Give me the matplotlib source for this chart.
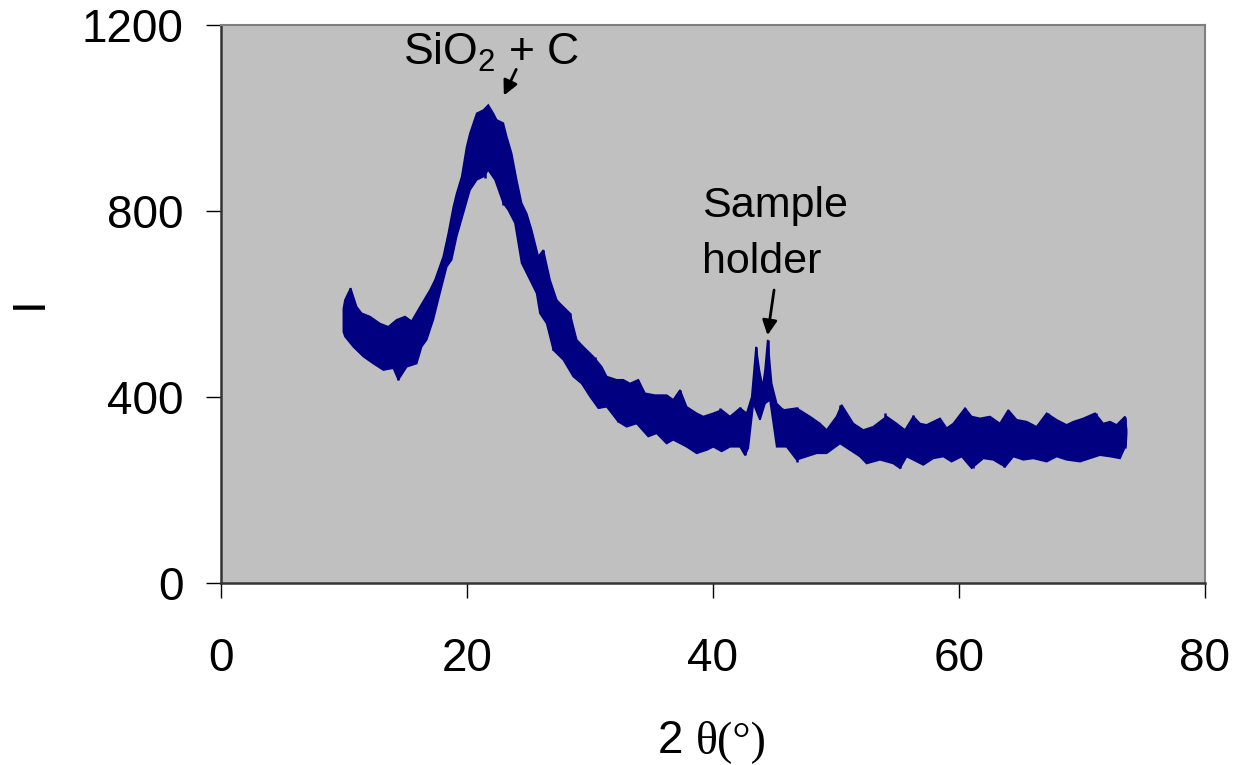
import matplotlib
matplotlib.use('Agg')
import matplotlib.pyplot as plt

# upper edge of the noisy trace (2theta, I)
upper_theta = [9.95, 10.08, 10.54, 11.03, 11.44, 12.11, 12.93, 13.60, 14.28, 14.96, 15.50, 16.18,
               16.99, 17.40, 18.07, 18.48, 18.89, 19.16, 19.57, 19.97, 20.24, 20.79, 21.33, 21.73,
               22.14, 22.41, 22.95, 23.23, 23.63, 24.04, 24.44, 24.85, 25.26, 25.80, 26.21, 26.75,
               27.29, 27.56, 28.37, 28.92, 29.46, 30.27, 30.95, 31.36, 32.17, 32.71, 33.25, 33.93,
               34.47, 35.28, 36.23, 36.77, 37.32, 37.86, 38.67, 39.21, 40.03, 40.70, 41.38, 42.20,
               42.74, 43.15, 43.50, 43.77, 44.04, 44.23, 44.45, 44.77, 45.18, 45.72, 46.80, 47.89,
               48.70, 49.24, 50.05, 50.46, 51.41, 52.22, 53.03, 54.12, 54.93, 55.61, 56.29, 56.83,
               57.37, 57.91, 58.46, 59.00, 59.54, 60.49, 61.03, 61.71, 62.52, 63.33, 64.01, 64.69,
               65.50, 66.31, 67.13, 67.94, 68.75, 69.30, 70.11, 71.06, 71.73, 72.28, 72.82, 73.50,
               73.63]
upper_i = [590, 609, 634, 594, 580, 573, 558, 551, 566, 573, 563, 594,
           630, 652, 702, 752, 809, 838, 874, 938, 967, 1010, 1017, 1028,
           1010, 996, 989, 960, 924, 867, 817, 795, 759, 702, 716, 652,
           609, 601, 580, 523, 508, 487, 465, 444, 437, 437, 429, 437,
           408, 404, 404, 394, 415, 379, 365, 358, 365, 372, 358, 376,
           365, 400, 508, 458, 422, 458, 523, 429, 386, 372, 376, 358,
           343, 329, 358, 383, 343, 329, 336, 358, 343, 329, 358, 343,
           340, 347, 354, 333, 343, 376, 358, 354, 358, 343, 372, 351,
           347, 336, 365, 351, 340, 347, 354, 365, 343, 347, 340, 358,
           330]

# lower edge of the noisy trace
lower_theta = [9.95, 10.08, 10.76, 11.57, 12.38, 13.20, 14.01, 14.42, 15.10, 15.91, 16.31, 16.72,
               17.26, 17.80, 18.35, 18.75, 19.16, 19.70, 20.24, 20.79, 21.33, 21.73, 22.28, 22.95,
               23.36, 23.90, 24.44, 25.12, 25.66, 25.93, 26.48, 27.02, 27.83, 28.64, 29.32, 30.00,
               30.68, 31.36, 32.30, 32.98, 33.79, 34.74, 35.42, 36.23, 36.77, 37.86, 38.67, 39.49,
               40.03, 40.70, 41.38, 42.20, 42.60, 42.87, 43.28, 43.82, 44.23, 44.63, 45.18, 45.99,
               46.80, 47.62, 48.43, 49.24, 50.33, 51.14, 51.95, 52.49, 53.58, 54.66, 55.20, 55.75,
               57.10, 57.91, 58.73, 59.40, 60.22, 61.03, 61.98, 62.79, 63.74, 64.42, 65.23, 66.04,
               67.13, 67.94, 68.75, 69.84, 70.65, 71.46, 72.28, 73.09, 73.58, 73.63]
lower_i = [540, 530, 508, 487, 472, 458, 462, 437, 465, 472, 508, 523,
           566, 623, 680, 695, 745, 795, 845, 867, 874, 888, 867, 817,
           802, 774, 688, 652, 623, 580, 558, 501, 480, 444, 429, 401,
           376, 379, 347, 336, 343, 315, 322, 300, 308, 293, 279, 286,
           293, 283, 293, 293, 275, 290, 386, 351, 386, 394, 293, 293,
           265, 272, 279, 279, 300, 286, 272, 257, 265, 257, 247, 272,
           254, 268, 272, 261, 272, 247, 268, 265, 250, 272, 265, 268,
           261, 272, 265, 261, 268, 275, 272, 268, 297, 320]

# thin spikes standing out of the band
spike_theta = [10.5, 14.4, 15.0, 21.5, 22.9, 26.2, 27.0, 28.4, 30.4, 30.7, 32.3, 33.9,
               36.3, 37.3, 38.7, 40.6, 42.2, 42.6, 43.5, 44.5, 45.6, 46.8, 46.8, 50.3,
               54.0, 55.2, 56.3, 60.5, 61.1, 63.7, 64.0, 67.2, 71.1, 73.5]
spike_low = [560, 437, 520, 871, 813, 650, 501, 530, 430, 376, 346, 390,
             350, 350, 280, 330, 330, 275, 420, 440, 330, 330, 260, 330,
             310, 247, 310, 320, 247, 249, 320, 310, 310, 290]
spike_high = [634, 500, 572, 950, 900, 716, 560, 580, 486, 420, 400, 437,
              404, 415, 320, 376, 379, 320, 508, 523, 376, 379, 300, 383,
              365, 290, 361, 376, 290, 290, 372, 365, 365, 357]

x_ticks = [0, 20, 40, 60, 80]
y_ticks = [0, 400, 800, 1200]

plt.rcParams['font.family'] = ['Liberation Sans', 'DejaVu Sans']
plt.rcParams['mathtext.fontset'] = 'custom'
plt.rcParams['mathtext.rm'] = 'Liberation Sans'

fig = plt.figure(figsize=(12.36, 7.65), dpi=100)
ax = fig.add_axes([0.1788, 0.2379, 0.7961, 0.7294])
ax.set_facecolor('#c0c0c0')

navy = '#000080'
# band outline: upper edge left to right, lower edge back
ax.fill(upper_theta + lower_theta[::-1], upper_i + lower_i[::-1],
        facecolor=navy, edgecolor=navy, lw=1.2)
ax.vlines(spike_theta, spike_low, spike_high, color=navy, lw=1.8)

ax.set_xlim(0, 80)
ax.set_ylim(0, 1200)
ax.set_xticks(x_ticks)
ax.set_yticks(y_ticks)
ax.tick_params(axis='x', length=11, width=1, pad=28, labelsize=33, direction='out')
ax.tick_params(axis='y', length=11, width=1, pad=16, labelsize=33, direction='out')

ax.spines['left'].set_linewidth(1.8)
ax.spines['bottom'].set_linewidth(1.8)
ax.spines['left'].set_color('#333333')
ax.spines['bottom'].set_color('#333333')
ax.spines['top'].set_color('#808080')
ax.spines['right'].set_color('#808080')
ax.spines['top'].set_linewidth(1.5)
ax.spines['right'].set_linewidth(1.5)

# annotations
ax.text(14.8, 1114, r'SiO$_2$ + C', fontsize=32, ha='left', va='baseline')
ax.annotate('', xy=(22.9, 1043), xytext=(24.1, 1110),
            arrowprops=dict(arrowstyle='-|>', color='black', lw=2, mutation_scale=22))
ax.text(39.1, 787, 'Sample', fontsize=31, ha='left', va='baseline')
ax.text(39.1, 667, 'holder', fontsize=31, ha='left', va='baseline')
ax.annotate('', xy=(44.4, 527), xytext=(45.0, 636),
            arrowprops=dict(arrowstyle='-|>', color='black', lw=2, mutation_scale=22))

# axis titles
fig.text(30 / 1236, 1 - 303 / 765, 'I', fontsize=33, rotation=90, ha='center', va='center')
fig.text(683 / 1236, 1 - 753 / 765, '2', fontsize=33, ha='right', va='baseline')
fig.text(696 / 1236, 1 - 753 / 765, 'θ(°)', fontsize=33, ha='left', va='baseline',
         family=['Liberation Serif', 'DejaVu Serif'])

fig.savefig('out.png', dpi=100)
